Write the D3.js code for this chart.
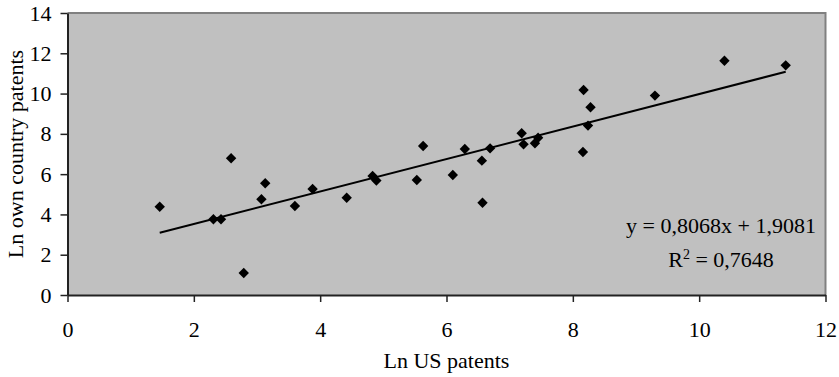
<!DOCTYPE html>
<html><head><meta charset="utf-8">
<script src="https://cdn.jsdelivr.net/npm/d3@7"></script>
<style>body{margin:0;background:#fff}svg text{font-family:"Liberation Serif","Times New Roman",serif;fill:#000}</style>
</head><body><svg id="c" width="839" height="377"></svg>
<script>
const usPatents = [1.46,2.31,2.43,2.59,2.79,3.07,3.13,3.60,3.88,4.42,4.83,4.89,5.53,5.63,6.10,6.29,6.56,6.57,6.69,7.19,7.22,7.40,7.45,8.16,8.17,8.24,8.28,9.30,10.40,11.37];
const ownPatents = [4.38,3.76,3.76,6.79,1.09,4.75,5.55,4.42,5.26,4.83,5.91,5.68,5.71,7.40,5.96,7.25,6.67,4.58,7.28,8.03,7.48,7.53,7.81,7.10,10.18,8.41,9.32,9.90,11.63,11.40];
const slope = 0.8068, intercept = 1.9081;
const xTicks = [0,2,4,6,8,10,12];
const yTicks = [0,2,4,6,8,10,12,14];
const eqText = "y = 0,8068x + 1,9081";
const r2Value = "= 0,7648";

const svg = d3.select("#c");
const L=67.5,R=825.5,T=13,B=295;
const x = d3.scaleLinear().domain([0,12]).range([L,R]);
const y = d3.scaleLinear().domain([0,14]).range([B,T]);
const fs = 22;

svg.append("rect").attr("x",L).attr("y",T).attr("width",R-L).attr("height",B-T).attr("fill","#c0c0c0");
svg.append("path").attr("d",`M${L},${T}H${R}V${B}`).attr("fill","none").attr("stroke","#808080").attr("stroke-width",2);

const xa = svg.append("g").attr("transform",`translate(0,${B})`)
  .call(d3.axisBottom(x).tickValues(xTicks).tickSize(7).tickPadding(19).tickSizeOuter(0));
const ya = svg.append("g").attr("transform",`translate(${L},0)`)
  .call(d3.axisLeft(y).tickValues(yTicks).tickSize(7).tickPadding(9).tickSizeOuter(0));
[xa,ya].forEach(a=>{
  a.select(".domain").attr("stroke","#222").attr("stroke-width",2);
  a.selectAll(".tick line").attr("stroke","#222").attr("stroke-width",1.5);
  a.selectAll("text").style("font-size",fs+"px").attr("fill","#000");
});
xa.selectAll("text").attr("dy","0.71em");

const x0 = d3.min(usPatents), x1 = d3.max(usPatents);
svg.append("line").attr("x1",x(x0)).attr("y1",y(slope*x0+intercept))
  .attr("x2",x(x1)).attr("y2",y(slope*x1+intercept)).attr("stroke","#000").attr("stroke-width",2);

svg.append("g").selectAll("path").data(usPatents).join("path")
  .attr("d","M0,-5.2L5.2,0L0,5.2L-5.2,0Z")
  .attr("transform",(d,i)=>`translate(${x(d)},${y(ownPatents[i])})`)
  .attr("fill","#000");

svg.append("text").attr("x",721).attr("y",233).attr("text-anchor","middle").style("font-size",fs+"px").text(eqText);
const r2 = svg.append("text").attr("x",721).attr("y",266.5).attr("text-anchor","middle").style("font-size",fs+"px");
r2.append("tspan").text("R");
r2.append("tspan").attr("dy",-8).style("font-size","14px").text("2");
r2.append("tspan").attr("dy",8).text(" "+r2Value);

svg.append("text").attr("x",(L+R)/2).attr("y",368).attr("text-anchor","middle").style("font-size",fs+"px").text("Ln US patents");
svg.append("text").attr("transform",`translate(23,${(T+B)/2}) rotate(-90)`).attr("text-anchor","middle").style("font-size",fs+"px").text("Ln own country patents");
</script></body></html>
